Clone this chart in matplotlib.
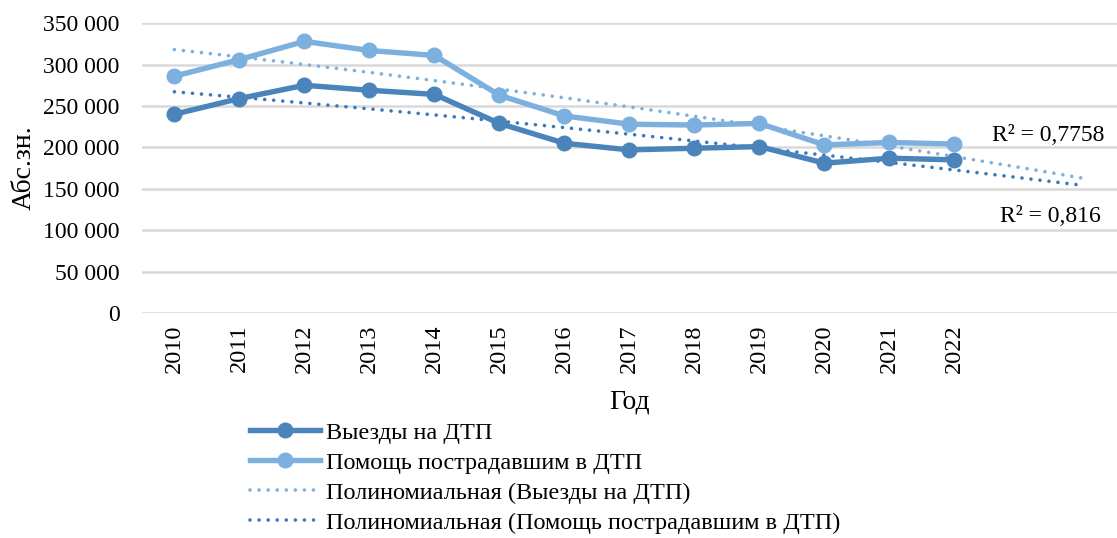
import numpy as np
import matplotlib
matplotlib.use('Agg')
import matplotlib.pyplot as plt

# ---- data ----
years = ['2010', '2011', '2012', '2013', '2014', '2015', '2016',
         '2017', '2018', '2019', '2020', '2021', '2022']
extra_slots = 2   # trend lines are carried 2 periods ahead
vyezdy = [240000, 259000, 275000, 269000, 264000, 229000, 205000,
          197000, 199000, 201000, 181000, 187000, 185000]
pomosch = [286000, 306000, 328000, 317000, 311000, 263000, 238000,
           228000, 227000, 229000, 203000, 206000, 204000]
r2_labels = ['R² = 0,7758', 'R² = 0,816']

dark = '#4a84bb'
light = '#7cb0df'

plt.rcParams['font.family'] = ['Liberation Serif', 'DejaVu Serif']
plt.rcParams['font.size'] = 17

fig = plt.figure(figsize=(11.17, 5.38), dpi=100)
ax = fig.add_axes([0.127, 0.418, 0.873, 0.539])

x = np.arange(1, len(years) + 1)
x_ext = np.arange(1, len(years) + 1 + extra_slots)

# polynomial trends (order 2)
tr_v = np.polyval(np.polyfit(x, vyezdy, 2), x_ext)
tr_p = np.polyval(np.polyfit(x, pomosch, 2), x_ext)

dots = (0, (0.01, 2.5))
l1, = ax.plot(x, vyezdy, color=dark, lw=3.9, marker='o', ms=10.5,
              label='Выезды на ДТП', zorder=3)
l2, = ax.plot(x, pomosch, color=light, lw=3.9, marker='o', ms=10.5,
              label='Помощь пострадавшим в ДТП', zorder=3)
t1, = ax.plot(x_ext, tr_p, color=light, lw=2.6, ls=dots,
              dash_capstyle='round', label='Полиномиальная (Выезды на ДТП)', zorder=2)
t2, = ax.plot(x_ext, tr_v, color='#3a78b8', lw=2.6, ls=dots,
              dash_capstyle='round',
              label='Полиномиальная (Помощь пострадавшим в ДТП)', zorder=2)

ax.text(x_ext[-1] + 0.3, 214000, r2_labels[0], ha='right', va='center', fontsize=17)
ax.text(x_ext[-1] + 0.25, 117000, r2_labels[1], ha='right', va='center', fontsize=17)

ax.set_xlim(0.5, len(x_ext) + 0.5)
ax.set_ylim(0, 350000)
ax.set_yticks(np.arange(0, 350001, 50000))
ax.set_yticklabels([f'{v:,}'.replace(',', ' ') for v in range(0, 350001, 50000)])
ax.set_xticks(x)
ax.set_xticklabels(years, rotation=90, fontsize=17.5)
ax.tick_params(length=0, pad=8)
ax.tick_params(axis='y', pad=16, labelsize=17)
ax.grid(axis='y', color='#d9d9d9', lw=1.8)
ax.set_axisbelow(True)
for s in ax.spines.values():
    s.set_visible(False)

ax.set_xlabel('Год', fontsize=20, labelpad=12)
ax.set_ylabel('Абс.зн.', fontsize=20)
ax.yaxis.set_label_coords(-0.108, 0.5)

fig.legend(handles=[l1, l2, t1, t2], loc='upper left',
           bbox_to_anchor=(0.215, 0.234), frameon=False, fontsize=17.5,
           handlelength=2.9, handletextpad=0.25, labelspacing=0.33,
           borderaxespad=0)

fig.savefig('out.png', dpi=100)
